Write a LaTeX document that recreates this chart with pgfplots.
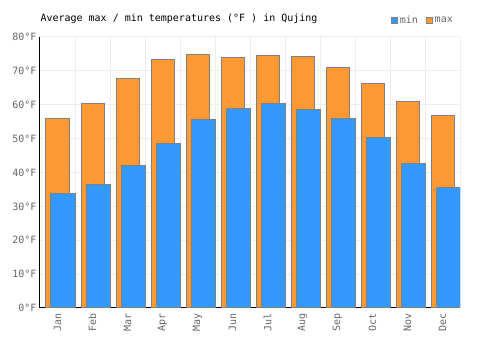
\documentclass[border=0pt]{standalone}
\usepackage{fontspec}
\setmainfont{DejaVu Sans Mono}
\setmonofont{DejaVu Sans Mono}
\usepackage{pgfplots}
\pgfplotsset{compat=1.18}
\definecolor{cmax}{HTML}{FF9933}
\definecolor{cmin}{HTML}{3399FF}
\definecolor{edge}{HTML}{808080}
\definecolor{gridc}{HTML}{EEEEEE}
\definecolor{txt}{HTML}{666666}
\begin{document}
\begin{tikzpicture}[x=1pt,y=1pt]
\useasboundingbox (0,0) rectangle (500,350);
\begin{axis}[
  at={(40pt,42pt)}, anchor=south west,
  width=420pt, height=271pt, scale only axis,
  xmin=-0.5, xmax=11.5, ymin=0, ymax=80,
  axis lines*=left,
  axis line style={black, line width=1pt},
  ytick={0,10,...,80},
  yticklabels={0°F,10°F,20°F,30°F,40°F,50°F,60°F,70°F,80°F},
  xtick={0,...,11},
  xticklabels={Jan,Feb,Mar,Apr,May,Jun,Jul,Aug,Sep,Oct,Nov,Dec},
  minor xtick={-0.5,0.5,...,11.5},
  xminorgrids, ymajorgrids,
  grid style={gridc, line width=1pt},
  minor grid style={gridc, line width=1pt},
  major tick length=0pt, minor tick length=0pt,
  tick style={draw=none},
  /pgf/number format/assume math mode=true,
  tick label style={font=\fontsize{10}{12}\selectfont, text=txt},
  x tick label style={rotate=90, anchor=east, xshift=-2pt},
  title={Average max / min temperatures (°F ) in Qujing},
  title style={at={(0,1)}, anchor=base west, yshift=9pt, xshift=-3pt, font=\fontsize{10}{12}\selectfont, text=black},
  legend columns=2,
  legend style={draw=none, fill=none, at={(1,1)}, anchor=south east, xshift=-5pt, yshift=10pt,
    font=\fontsize{10}{12}\selectfont, text=txt, inner sep=0pt,
    /tikz/every even column/.append style={column sep=6pt}},
  legend image code/.code={\draw[#1, line width=0.8pt] (0pt,-3pt) rectangle (6pt,3pt);},
]
\addlegendimage{fill=cmin, draw=edge}
\addlegendentry{min}
\addlegendimage{fill=cmax, draw=edge}
\addlegendentry{max}
\addplot[ybar, bar width=23pt, bar shift=0pt, fill=cmax, draw=edge, line width=1pt, forget plot]
  coordinates {(0,56.0) (1,60.4) (2,67.7) (3,73.4) (4,74.8) (5,73.9) (6,74.5) (7,74.2) (8,71.0) (9,66.3) (10,61.0) (11,56.8)};
\addplot[ybar, bar width=24.5pt, bar shift=5.75pt, fill=cmin, draw=edge, line width=1pt, forget plot]
  coordinates {(0,33.8) (1,36.5) (2,42.1) (3,48.6) (4,55.7) (5,58.9) (6,60.4) (7,58.6) (8,56.0) (9,50.4) (10,42.7) (11,35.6)};
\end{axis}
\end{tikzpicture}
\end{document}
